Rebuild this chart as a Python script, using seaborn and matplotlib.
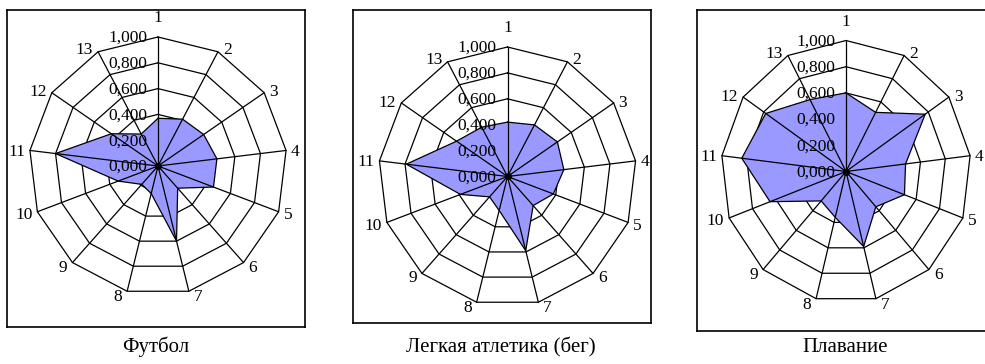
import numpy as np
import pandas as pd
import matplotlib
matplotlib.use("Agg")
import matplotlib.pyplot as plt
import seaborn as sns

# ---------------- data ----------------
spokes = [str(i) for i in range(1, 14)]
ring_levels = [0.0, 0.2, 0.4, 0.6, 0.8, 1.0]
titles = ["Футбол", "Легкая атлетика (бег)", "Плавание"]
football = [0.37, 0.41, 0.43, 0.46, 0.46, 0.23, 0.60, 0.22, 0.19, 0.33, 0.80, 0.44, 0.28]
athletics = [0.42, 0.45, 0.47, 0.44, 0.38, 0.30, 0.59, 0.27, 0.21, 0.39, 0.79, 0.48, 0.43]
swimming = [0.60, 0.51, 0.77, 0.48, 0.50, 0.36, 0.59, 0.36, 0.30, 0.65, 0.84, 0.78, 0.62]
series = [football, athletics, swimming]

# ---------------- style ----------------
sns.set_theme(style="white")
plt.rcParams["font.family"] = ["Liberation Serif", "DejaVu Serif"]

W, H = 985, 364
fig = plt.figure(figsize=(W / 100, H / 100), dpi=100)

# box (left, right, top, bottom) in px, center (cx, cy), radii (Rx, Ry) in px
layouts = [
    dict(box=(7, 305, 10, 327), c=(158, 166), R=(129, 129), tx=156),
    dict(box=(353, 651, 10, 323), c=(507.5, 176.5), R=(129, 129.5), tx=501),
    dict(box=(697, 1000, 10, 331), c=(846, 171.5), R=(125, 131), tx=845),
]

FILL = "#9999FF"
n = len(spokes)
ang = np.arange(n) * 2 * np.pi / n


def xy(vals):
    v = np.asarray(vals, dtype=float)
    return v * np.sin(ang), v * np.cos(ang)


for vals, title, lay in zip(series, titles, layouts):
    l, r, t, b = lay["box"]
    cx, cy = lay["c"]
    Rx, Ry = lay["R"]
    ax = fig.add_axes([l / W, 1 - b / H, (r - l) / W, (b - t) / H])
    ax.set_xlim(-(cx - l) / Rx, (r - cx) / Rx)
    ax.set_ylim(-(b - cy) / Ry, (cy - t) / Ry)
    ax.set_xticks([])
    ax.set_yticks([])
    for s in ax.spines.values():
        s.set_color("black")
        s.set_linewidth(1.2)
        s.set_visible(True)

    # ring grid (polygonal)
    for lv in ring_levels[1:]:
        gx, gy = xy([lv] * n)
        ring = pd.DataFrame({"x": np.append(gx, gx[0]), "y": np.append(gy, gy[0])})
        sns.lineplot(data=ring, x="x", y="y", sort=False, estimator=None,
                     color="black", linewidth=0.9, ax=ax, zorder=1)

    # data polygon
    px, py = xy(vals)
    ax.fill(px, py, color=FILL, zorder=2, linewidth=0)
    poly = pd.DataFrame({"x": np.append(px, px[0]), "y": np.append(py, py[0])})
    sns.lineplot(data=poly, x="x", y="y", sort=False, estimator=None,
                 color="black", linewidth=0.9, ax=ax, zorder=3)

    # spokes
    ox, oy = xy([1.0] * n)
    for x1, y1 in zip(ox, oy):
        ax.plot([0, x1], [0, y1], color="black", linewidth=0.9, zorder=4)
    ax.plot([0], [0], marker="o", markersize=4, color="black", zorder=5)

    # radial tick labels
    for lv in ring_levels:
        ax.text(-11 / Rx, lv - 1 / Ry, f"{lv:.3f}".replace(".", ","), ha="right",
                va="center", fontsize=12.5, color="black", zorder=6)

    # spoke labels
    for i, lab in enumerate(spokes):
        s, c = np.sin(ang[i]), np.cos(ang[i])
        if i == 0:
            ax.text(0, 1 + 19 / Ry, lab, ha="center", va="center",
                    fontsize=12.5, color="black", zorder=6)
            continue
        ha = "left" if s > 0 else "right"
        x = s + np.sign(s) * 5 / Rx
        y = c + (4.0 * c - 2) / Ry
        ax.text(x, y, lab, ha=ha, va="center", fontsize=12.5, color="black", zorder=6)

    fig.text(lay["tx"] / W, 1 - 347 / H, title, ha="center", va="center",
             fontsize=15, color="black")

fig.savefig("out.png", dpi=100)
